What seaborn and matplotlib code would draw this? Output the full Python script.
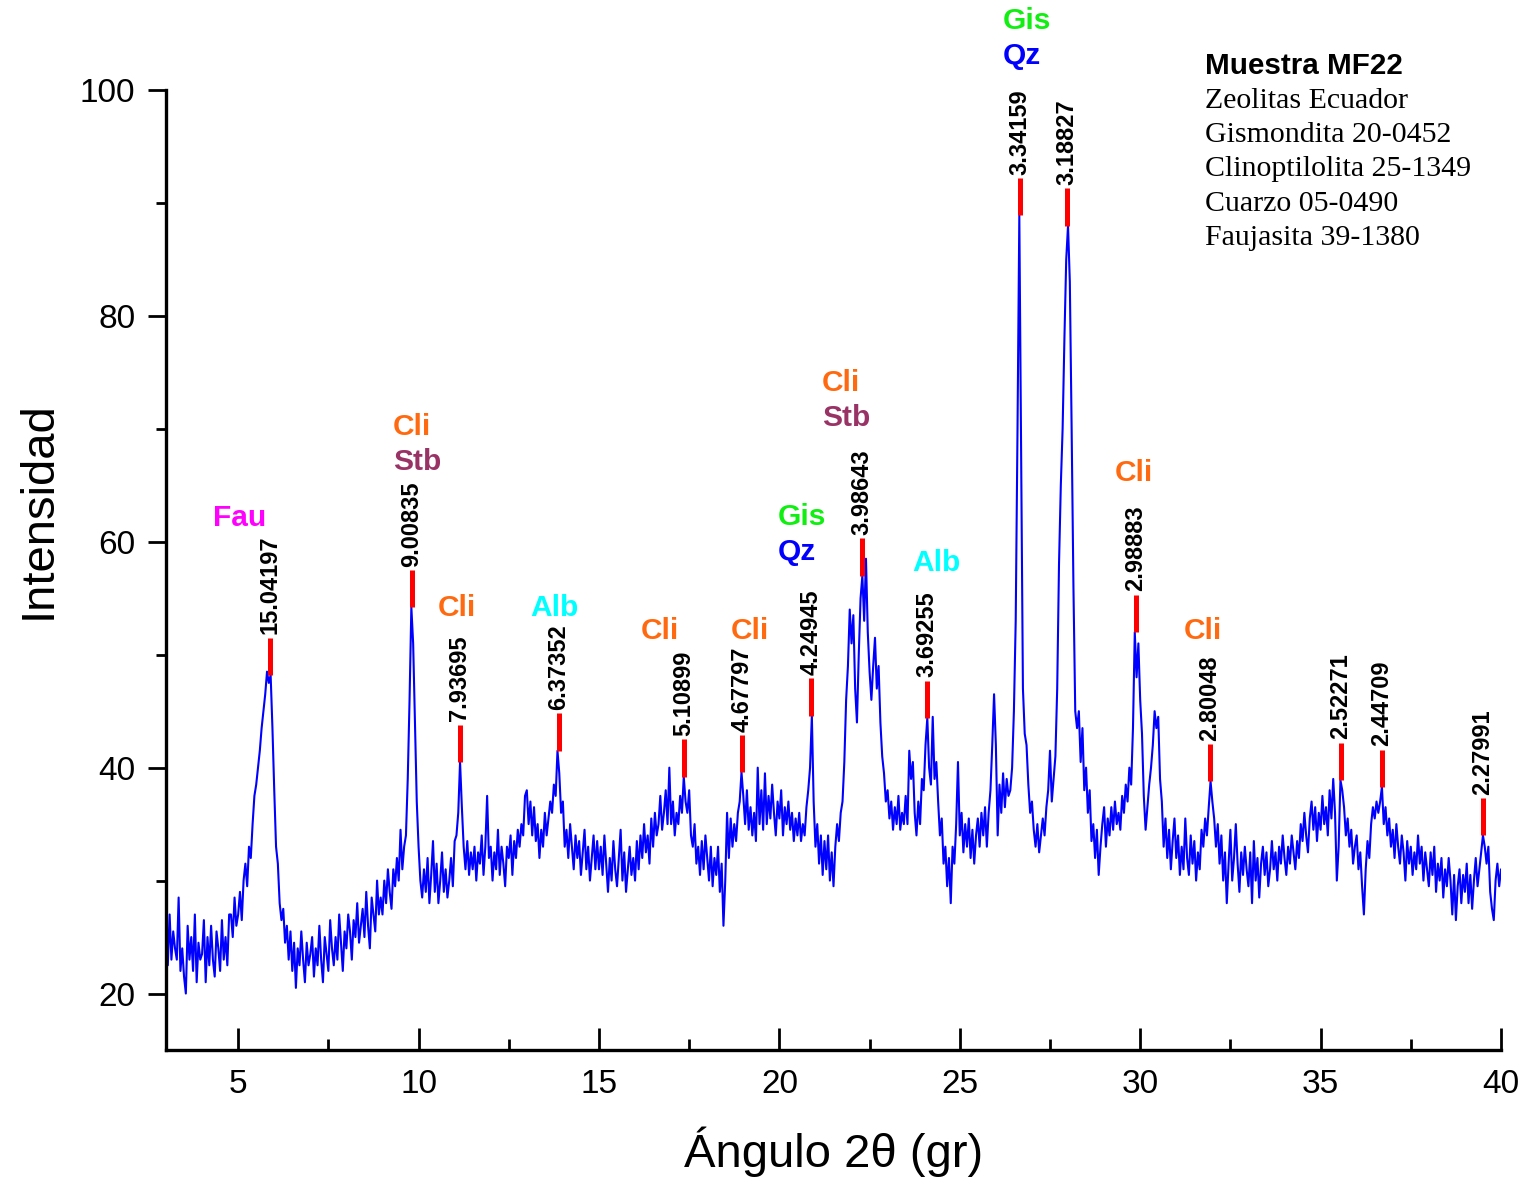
"""
XRD pattern of sample MF22 (Zeolitas Ecuador) with peak markers
and phase labels, redrawn with seaborn / matplotlib.
"""

import numpy as np
import pandas as pd
import matplotlib
matplotlib.use("Agg")
import matplotlib.pyplot as plt
from matplotlib.ticker import MultipleLocator
import seaborn as sns

# Intensity, 0.05 deg steps starting at 2theta = 3.00
intensity = [
    25, 22.5, 27, 23, 25.5, 24, 23, 28.5, 22, 24, 21.5, 20, 26, 23, 25, 22, 27, 21, 24.5, 23,  # 3
    23.5, 26.5, 21, 25, 22.5, 26, 23, 21.5, 25.5, 24, 22, 26.5, 23, 25, 22.5, 27, 27, 25, 28.5, 26,  # 4
    27, 29, 26.5, 30, 31.5, 29.5, 33, 32, 35, 37.5, 38.5, 40, 41.5, 43.5, 45, 46.5, 48.5, 47.5, 48.2, 43.5,  # 5
    38, 33, 31.5, 28, 26.5, 27.5, 24.5, 26, 23, 25.5, 22, 24.5, 20.5, 24, 22.5, 25.5, 23, 21, 24.5, 22.5,  # 6
    23.5, 25, 21.5, 24, 22.5, 26, 23, 21, 25, 23.5, 22, 26.5, 24, 22.5, 25, 23, 27, 24.5, 22, 25.5,  # 7
    24, 27, 25.5, 23, 26.5, 25, 28, 24.5, 26, 27.5, 25, 29, 26, 24, 28.5, 27, 25.5, 30, 27, 28.5,  # 8
    27, 30, 28, 31, 29, 27.5, 31, 29.5, 32, 30, 34.5, 31, 33, 34, 39, 46, 54.2, 51, 44, 37,  # 9
    33, 30, 28.5, 31, 29, 32, 28, 30.5, 33.5, 29, 31.5, 28, 30, 32.5, 29, 31, 28.5, 30, 32, 29.5,  # 10
    33.5, 34, 36, 40.5, 36.5, 33, 31, 33.5, 30.5, 32.5, 31, 33, 30, 32.5, 31.5, 34, 30.5, 33, 37.5, 32,  # 11
    33, 30, 32.5, 31, 34.5, 30.5, 33, 31.5, 29.5, 33, 32, 34, 30.5, 33.5, 32, 34.5, 33, 35, 34, 37.5,  # 12
    38, 35, 37, 34, 36.5, 33.5, 35, 32, 34.5, 33, 36, 34, 35.5, 37, 36, 38.5, 37.5, 41.5, 39.5, 36,  # 13
    37, 33, 34.5, 32, 35, 33, 31, 34, 32, 33.5, 30.5, 32.5, 34.5, 31, 33, 30, 32, 34, 31, 33.5,  # 14
    31, 33, 30.5, 34, 31.5, 29, 32, 30, 33.5, 31, 29.5, 32, 34.5, 30, 32.5, 29, 31, 33, 30.5, 32,  # 15
    30, 33.5, 31, 34, 32, 35, 32.5, 34, 31.5, 35.5, 33, 36, 34, 35, 37.5, 34.5, 36, 38, 35, 40,  # 16
    35, 37, 34, 36, 35, 37.5, 36, 39.2, 37, 36, 38, 34, 33, 35, 31.5, 33, 30.5, 33.5, 31, 34,  # 17
    32, 30, 33, 29.5, 32, 30.5, 33, 29, 31.5, 26, 30, 36, 32, 35.5, 33, 35, 33.5, 36, 37, 39.6,  # 18
    37.5, 35, 38, 34.5, 36.5, 34, 36, 33.5, 40, 35, 38, 34.5, 39.5, 35, 37.5, 35.5, 38.5, 36, 34, 37,  # 19
    35.5, 38, 34, 36.5, 35, 37, 34.5, 36, 33.5, 35.5, 34, 36, 33.5, 35, 34, 36.5, 38, 40, 44.6, 37,  # 20
    33, 35, 31.5, 34, 30.5, 33.5, 31, 34, 30, 32.5, 29.5, 33, 35, 33.5, 36, 37, 40.5, 46, 49, 54,  # 21
    51, 53.5, 47, 44, 50, 55, 57, 53, 58.5, 52, 48.5, 46, 49, 51.5, 47, 49, 44, 41, 39.5, 37,  # 22
    38, 35.5, 37, 34.5, 36.5, 35, 37.5, 34.5, 36, 35, 37.5, 35, 41.5, 39, 40.5, 36, 34, 37, 35, 39,  # 23
    38, 42, 44.4, 40, 38.5, 44.5, 39, 40.5, 37, 34, 35.5, 31.5, 33, 29.5, 32, 28, 33, 31.5, 35, 40.5,  # 24
    34, 36, 32.5, 35, 33, 35.5, 32, 34.5, 31.5, 34, 35.5, 33, 36, 34, 36.5, 33, 36, 38, 42, 46.5,  # 25
    42, 34, 38.5, 36, 39.5, 36.5, 39, 37.5, 38, 40, 45, 53, 70, 88.9, 68, 47, 43, 42, 38.5, 36,  # 26
    37, 34.5, 33, 35, 32.5, 34, 35.5, 34, 36.5, 38, 41.5, 37, 39, 41, 47, 58, 65, 70, 78, 85,  # 27
    88, 83, 70, 56, 45, 43.5, 45, 40.5, 43.5, 38, 40, 36, 38, 33.5, 35, 32, 34.5, 30.5, 33, 35,  # 28
    36.5, 33, 35.5, 34, 36.5, 34.5, 37, 35, 36, 34.5, 37.5, 36, 38.5, 37, 40, 38.5, 43.5, 52, 48, 51,  # 29
    46, 43, 37.5, 34.5, 36.5, 38.5, 40, 42, 45, 43.5, 44.5, 39, 37, 33, 35.5, 32, 34.5, 31, 33.5, 35.5,  # 30
    32, 34, 30.5, 33, 31, 35.5, 32, 30.5, 34, 31.5, 33.5, 30, 32.5, 31, 34.5, 33, 35.5, 34, 36.5, 38.8,  # 31
    37, 35.5, 33, 35, 31.5, 34, 30, 32.5, 28, 31.5, 34.5, 30, 32, 35, 31.5, 29, 32.5, 30.5, 33, 31,  # 32
    29.5, 32.5, 28, 33.5, 30, 32, 28.5, 31.5, 33, 30.5, 32.5, 29.5, 31, 33.5, 31, 32.5, 30, 33, 31.5, 34,  # 33
    32, 30.5, 33, 31.5, 34, 32.5, 31, 33.5, 32, 35, 33.5, 36, 34, 32.5, 35.5, 37, 34.5, 36.5, 33.5, 36,  # 34
    34.5, 37.5, 35, 36.5, 34, 38, 35.5, 39, 36, 30, 33, 38.9, 38, 36.5, 34, 35.5, 33, 34.5, 31.5, 33,  # 35
    34, 31, 32.5, 29.5, 27, 31, 33.5, 32, 35, 36.5, 35.5, 37, 36, 37, 38.3, 35, 36.5, 34, 35.5, 33,  # 36
    34.5, 32, 35, 33, 31.5, 34, 32.5, 30, 33.5, 31.5, 33, 30.5, 32.5, 31, 34, 31.5, 33, 30, 32.5, 31,  # 37
    29.5, 32.5, 30.5, 33, 29, 31.5, 30, 32, 28.5, 31, 29.5, 32, 30, 27, 30.5, 26.5, 29.5, 31, 28, 30.5,  # 38
    29, 31.5, 28, 30.5, 27.5, 30, 32, 29.5, 31, 32.5, 34, 33, 31.5, 33, 29, 27.5, 26.5, 30, 31.5, 29.5,  # 39
    31,  # 40
]
two_theta = np.round(3.0 + 0.05 * np.arange(len(intensity)), 2)

# d-spacings (Angstrom) of the marked peaks and the intensity at each marker
d_spacing = [15.04197, 9.00835, 7.93695, 6.37352, 5.10899, 4.67797, 4.24945,
             3.98643, 3.69255, 3.34159, 3.18827, 2.98883, 2.80048, 2.52271,
             2.44709, 2.27991]
peak_top = [48.2, 54.2, 40.5, 41.5, 39.2, 39.6, 44.6, 57.0, 44.4, 88.9, 88.0,
            52.0, 38.8, 38.9, 38.3, 34.0]
wavelength = 1.5406  # Cu K-alpha

# Phase labels
phase_names = ["Fau", "Cli", "Stb", "Cli", "Alb", "Cli", "Cli", "Gis", "Qz",
               "Cli", "Stb", "Alb", "Gis", "Qz", "Cli", "Cli"]
phase_x = [4.30, 9.29, 9.29, 10.54, 13.09, 16.17, 18.66, 19.96, 19.96,
           21.18, 21.18, 23.68, 26.20, 26.20, 29.30, 31.21]
phase_y = [62.1, 70.2, 67.1, 54.1, 54.1, 52.1, 52.1, 62.2, 59.1,
           74.1, 71.0, 58.1, 106.1, 103.0, 66.1, 52.1]
phase_colors = {"Fau": "#FF00FF", "Cli": "#FF6A10", "Stb": "#993366",
                "Alb": "#00FFFF", "Gis": "#11EE11", "Qz": "#0000FF"}

info_lines = ["Muestra MF22", "Zeolitas Ecuador", "Gismondita 20-0452",
              "Clinoptilolita 25-1349", "Cuarzo 05-0490", "Faujasita 39-1380"]

sns.set_style("ticks")
plt.rcParams['font.family'] = ['Liberation Sans', 'DejaVu Sans']
plt.rcParams.update({'text.color': 'black', 'axes.labelcolor': 'black',
                     'xtick.color': 'black', 'ytick.color': 'black',
                     'axes.edgecolor': 'black'})

df = pd.DataFrame({'two_theta': two_theta, 'intensity': intensity})
peak_2theta = 2 * np.degrees(np.arcsin(wavelength / (2 * np.array(d_spacing))))

fig = plt.figure(figsize=(15.29, 11.88), dpi=100)
ax = fig.add_axes([166 / 1529, 1 - 1050 / 1188, 1335 / 1529, 960 / 1188])

sns.lineplot(data=df, x='two_theta', y='intensity', color='#0000FF',
             linewidth=1.5, estimator=None, sort=False, ax=ax)

# Red peak markers with d-spacing labels
mark_len = 3.3
ax.vlines(peak_2theta, peak_top, np.array(peak_top) + mark_len,
          colors='#FF0000', linewidth=3.6, clip_on=False, zorder=3)
for x, top, d in zip(peak_2theta, peak_top, d_spacing):
    ax.text(x, top + mark_len + 0.3, f"{d:.5f}", rotation=90, ha='center',
            va='bottom', fontsize=17, fontweight='bold', clip_on=False)

for name, x, y in zip(phase_names, phase_x, phase_y):
    ax.text(x, y, name, color=phase_colors[name], fontsize=21.5,
            fontweight='bold', ha='left', va='center', clip_on=False)

# Sample info block
info_y = [102.1, 99.0, 96.0, 93.0, 89.9, 86.9]
for i, (line, y) in enumerate(zip(info_lines, info_y)):
    if i == 0:
        ax.text(31.8, y, line, fontsize=21.3, fontweight='bold', va='center')
    else:
        ax.text(31.8, y, line, fontsize=21.5, va='center',
                family=['Liberation Serif', 'DejaVu Serif'])

ax.set_xlim(3, 40)
ax.set_ylim(15, 100)
ax.xaxis.set_major_locator(MultipleLocator(5))
ax.xaxis.set_minor_locator(MultipleLocator(2.5))
ax.yaxis.set_major_locator(MultipleLocator(20))
ax.yaxis.set_minor_locator(MultipleLocator(10))
ax.tick_params(axis='x', which='major', direction='in', length=16, width=2,
               labelsize=24, pad=14)
ax.tick_params(axis='x', which='minor', direction='in', length=8, width=2)
ax.tick_params(axis='y', which='major', direction='out', length=13, width=2,
               labelsize=24, pad=9)
ax.tick_params(axis='y', which='minor', direction='out', length=7, width=2)

sns.despine(ax=ax)
for side in ['left', 'bottom']:
    ax.spines[side].set_linewidth(2.4)

ax.set_xlabel('Ángulo 2θ (gr)', fontsize=34)
ax.set_ylabel('Intensidad', fontsize=34)
ax.xaxis.set_label_coords(0.5, -0.08)
ax.yaxis.set_label_coords(-0.079, 0.5625)

fig.savefig('out.png', dpi=100)
plt.close(fig)
